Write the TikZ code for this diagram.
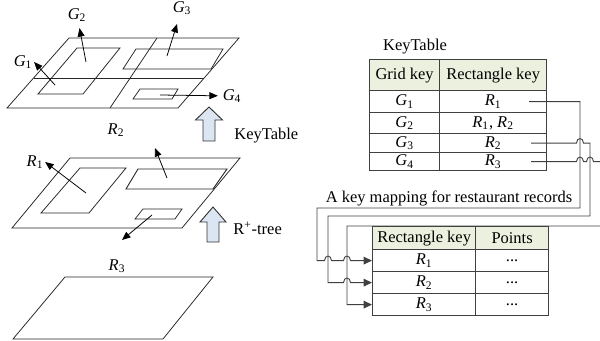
\documentclass[tikz,border=0pt]{standalone}
\usepackage{fontspec}
\setmainfont{Liberation Serif}
\usetikzlibrary{arrows.meta,calc}

\definecolor{headgreen}{RGB}{235,241,222}
\definecolor{arrowblue}{RGB}{220,230,242}
\newcommand{\ikey}[2]{\textit{#1}\textsubscript{#2}}
\newcommand{\pxu}{0.65pt}

\begin{document}
\begin{tikzpicture}[
  x=0.65pt, y=-0.65pt,
  font=\fontsize{10.7}{12.8}\selectfont,
  plane/.style={draw=black!85,line width=0.5pt},
  ptr/.style={-{Triangle[length=5.5pt,width=4.5pt]},line width=0.5pt},
  lab/.style={inner sep=1pt},
  blockup/.style={draw=black!80,fill=arrowblue,line width=0.6pt},
  cell/.style={draw=black!75,line width=0.8pt,inner sep=0pt,anchor=north west},
  head/.style={cell,fill=headgreen},
  link/.style={draw=black!75,line width=0.6pt,-{Triangle[length=5.5pt,width=5pt]}},
  hop/.style={insert path={-- ($(#1)+(-3.5,0)$) .. controls +(0,-6) and +(0,-6) .. ($(#1)+(3.5,0)$)}}
]
\useasboundingbox (0,0) rectangle (600,341);

% grid layer
\draw[plane] (69,38) -- (239,38) -- (178,108) -- (7,108) -- cycle;
\draw[plane,line width=0.6pt] (34,78) -- (204,78);
\draw[plane] (157,38) -- (110,108);
\draw[plane] (77,48) -- (120,48) -- (83,94) -- (38,94) -- cycle;
\draw[plane] (136,49) -- (223,49) -- (211,69) -- (123,69) -- cycle;
\draw[plane] (140,89) -- (178,89) -- (172,99) -- (133,99) -- cycle;
\node[lab] (g1lab) at (23,62) {\ikey G1};
\node[lab] (g2lab) at (77,15) {\ikey G2};
\node[lab] (g3lab) at (182,8) {\ikey G3};
\node[lab] (g4lab) at (232,96) {\ikey G4};
\draw[ptr] (55,85) -- (g1lab.east);
\draw[ptr,shorten >=3pt] (86,62) -- (g2lab);
\draw[ptr,shorten >=5pt] (167,56) -- (g3lab);
\draw[ptr,shorten >=2pt] (160,95) -- (g4lab);
\node[lab] (r2lab) at (116,130) {\ikey R2};

% rectangle layer
\draw[plane] (70,158) -- (240,158) -- (182,228) -- (12,228) -- cycle;
\draw[plane] (80,168) -- (126,168) -- (89,213) -- (41,213) -- cycle;
\draw[plane,line width=0.6pt] (138,169) -- (227,169) -- (213,189) -- (126,189) -- cycle;
\draw[plane] (143,209) -- (182,209) -- (175,219) -- (135,219) -- cycle;
\node[lab] (r1lab) at (35,162) {\ikey R1};
\coordinate (r2tip) at (155,148);
\coordinate (r3tip) at (122,240);
\draw[ptr] (86,193) -- (r1lab.east);
\draw[ptr] (167,178) -- (r2tip);
\draw[ptr] (152,215) -- (r3tip);

% point layer
\draw[plane] (65,277) -- (213,277) -- (163,339) -- (13,339) -- cycle;
\node[lab] (r3lab) at (117,266) {\ikey R3};

% block arrows
\draw[blockup] (203,141) -- (203,120) -- (195.5,120) -- (209,107) -- (222.5,120) -- (215,120) -- (215,141) -- cycle;
\node[anchor=west] (ktlab) at (229,136) {KeyTable};
\draw[blockup] (207,242) -- (207,222) -- (200,222) -- (213,207) -- (226,222) -- (219,222) -- (219,242) -- cycle;
\node[anchor=west] (rtlab) at (228,228) {R\textsuperscript{+}-tree};

% key table
\node (kttitle) at (415,47) {KeyTable};
\node[head,minimum width=70*\pxu,minimum height=31*\pxu] (gkh) at (369,59) {Grid key};
\node[head,minimum width=107*\pxu,minimum height=31*\pxu] (rkh) at (439,59) {Rectangle key};
\foreach \i/\y/\h/\g/\r in {1/90/22/{\ikey G1}/{\ikey R1},
    2/112/21/{\ikey G2}/{\ikey R1, \ikey R2},
    3/133/19/{\ikey G3}/{\ikey R2},
    4/152/18/{\ikey G4}/{\ikey R3}}{
  \node[cell,minimum width=70*\pxu,minimum height=\h*\pxu] (gk\i) at (369,\y) {\g};
  \node[cell,minimum width=107*\pxu,minimum height=\h*\pxu] (rk\i) at (439,\y) {\r};
}

% point table
\node (maplab) at (449,198) {A key mapping for restaurant records};
\node[head,minimum width=103*\pxu,minimum height=23*\pxu] (pkh) at (372,226) {Rectangle key};
\node[head,minimum width=73*\pxu,minimum height=23*\pxu] (pth) at (475,226) {Points};
\foreach \i/\y in {1/249,2/271,3/293}{
  \node[cell,minimum width=103*\pxu,minimum height=22*\pxu] (pk\i) at (372,\y) {\ikey R\i};
  \node[cell,minimum width=73*\pxu,minimum height=22*\pxu] (pt\i) at (475,\y) {...};
}

% mapping links
\coordinate (busA) at (580,208);
\coordinate (busB) at (590,216);
\coordinate (busC) at (612,226);
\coordinate (dropA) at (317,208);
\coordinate (dropB) at (328,216);
\coordinate (dropC) at (347,226);
\draw[link] ($(rk1.east)+(-18,0)$) -- (rk1.east -| busA) -- (busA) -- (dropA)
  -- (dropA |- pk1.west) [hop=dropB |- pk1.west] [hop=dropC |- pk1.west] -- (pk1.west);
\draw[link] ($(rk3.east)+(-16,0)$) [hop=busA |- rk3.east] -- (rk3.east -| busB) -- (busB) -- (dropB)
  -- (dropB |- pk2.west) [hop=dropC |- pk2.west] -- (pk2.west);
\draw[link] ($(rk4.east)+(-16,0)$) [hop=busA |- rk4.east] [hop=busB |- rk4.east] -- (rk4.east -| busC)
  -- (busC) -- (dropC) -- (dropC |- pk3.west) -- (pk3.west);
\end{tikzpicture}
\end{document}
